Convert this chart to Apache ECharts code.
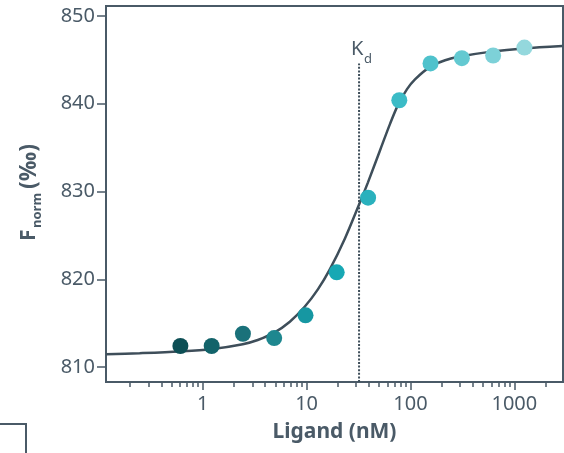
<!DOCTYPE html>
<html><head><meta charset="utf-8">
<script src="https://cdn.jsdelivr.net/npm/echarts@6/dist/echarts.min.js"></script>
<style>html,body{margin:0;padding:0;background:#fff}#c{width:564px;height:453px}</style>
</head><body><div id="c"></div>
<script>
// measured points (2-fold dilution series, nM) and Fnorm (‰)
const concentrations = [0.61, 1.22, 2.44, 4.88, 9.77, 19.5, 39.1, 78.1, 156, 312.5, 625, 1250];
const fnorm = [812.4, 812.4, 813.8, 813.3, 815.9, 820.8, 829.3, 840.4, 844.6, 845.2, 845.5, 846.4];
const pointColors = ['#0d4f55', '#12636a', '#1a717a', '#1e878f', '#1697a2', '#17a8b4', '#2ab1bd', '#3bbbc6', '#4fc2cc', '#63c9d1', '#7dd1d8', '#94d8dd'];
// fitted curve
const curveConc = [0.118, 0.247, 0.60, 1.19, 2.43, 3.39, 4.84, 6.9, 9.63, 12.85, 16.74, 23.4, 31.8, 39.0, 51.0, 63.6, 75.9, 92.7, 110.6, 154.5, 215.7, 300.8, 626, 1245, 2900];
const curveFnorm = [811.45, 811.58, 811.78, 812.03, 812.61, 813.09, 813.89, 815.17, 816.9, 818.85, 821.13, 824.66, 828.44, 831.05, 834.71, 837.71, 839.87, 841.67, 842.79, 844.21, 844.96, 845.38, 845.97, 846.31, 846.58];
// Kd marker
const kdValue = 32;
const kdLineFnorm = [808.3, 844.6];
// axes
const xRange = [0.1173, 2940];
const yRange = [808.3, 851.14];
const xMajorTicks = [1, 10, 100, 1000];
const xMinorTicks = [0.2,0.3,0.4,0.5,0.6,0.7,0.8,0.9, 2,3,4,5,6,7,8,9, 20,30,40,50,60,70,80,90, 200,300,400,500,600,700,800,900, 2000];
const yTicks = [810, 820, 830, 840, 850];

const INK = '#4a5a67';
const CURVE = '#3e4e5a';
const FONT = '"Noto Sans", sans-serif';

const chart = echarts.init(document.getElementById('c'), null, {renderer: 'canvas'});
const option = {
  animation: false,
  backgroundColor: '#fff',
  grid: {left: 106, right: 1, top: 6, bottom: 71, show: true, borderColor: INK, borderWidth: 2, backgroundColor: 'transparent'},
  xAxis: [
    {
      type: 'log', logBase: 10, min: xRange[0], max: xRange[1], position: 'bottom',
      axisLine: {lineStyle: {color: INK, width: 2}},
      axisTick: {customValues: xMajorTicks, length: 8, lineStyle: {color: INK, width: 1.5}},
      axisLabel: {customValues: xMajorTicks, formatter: v => String(Math.round(v)), fontSize: 20, color: INK, margin: 12, fontFamily: FONT},
      splitLine: {show: false}, minorTick: {show: false},
      name: 'Ligand (nM)', nameLocation: 'middle', nameGap: 40,
      nameTextStyle: {fontSize: 21, fontWeight: 'bold', color: INK, fontFamily: FONT}
    },
    {
      type: 'log', logBase: 10, min: xRange[0], max: xRange[1], position: 'bottom', gridIndex: 0,
      axisLine: {show: false},
      axisTick: {customValues: xMinorTicks, length: 5, lineStyle: {color: INK, width: 1.5}},
      axisLabel: {show: false}, splitLine: {show: false}
    }
  ],
  yAxis: {
    type: 'value', min: yRange[0], max: yRange[1],
    axisLine: {show: true, lineStyle: {color: INK, width: 2}},
    axisTick: {show: true, customValues: yTicks, length: 9, lineStyle: {color: INK, width: 1.5}},
    axisLabel: {customValues: yTicks, fontSize: 20, color: INK, margin: 11, fontFamily: FONT},
    splitLine: {show: false}
  },
  series: [
    {
      type: 'line', name: 'Kd', xAxisIndex: 0,
      data: kdLineFnorm.map(v => [kdValue, v]),
      showSymbol: false, silent: true, z: 1,
      lineStyle: {color: CURVE, width: 2, type: [2, 1.6]}
    },
    {
      type: 'line', name: 'fit', xAxisIndex: 0,
      data: curveConc.map((c, i) => [c, curveFnorm[i]]),
      smooth: 0.3, showSymbol: false, silent: true, z: 2,
      lineStyle: {color: CURVE, width: 2.5}
    },
    {
      type: 'scatter', name: 'data', xAxisIndex: 0, symbolSize: 16, z: 3,
      data: concentrations.map((c, i) => ({value: [c, fnorm[i]], itemStyle: {color: pointColors[i], opacity: 1}}))
    }
  ],
  graphic: [
    {type: 'text', x: 351, y: 49, style: {text: 'K', fill: INK, fontSize: 20, fontFamily: FONT, align: 'left', verticalAlign: 'middle', textAlign: 'left', textVerticalAlign: 'middle'}},
    {type: 'text', x: 364, y: 59, style: {text: 'd', fill: INK, fontSize: 13, fontFamily: FONT, align: 'left', verticalAlign: 'middle', textAlign: 'left', textVerticalAlign: 'middle'}},
    {type: 'group', x: 35, y: 241, rotation: Math.PI / 2, children: [
      {type: 'text', x: 0, y: -6, style: {text: 'F', fill: INK, fontSize: 21, fontWeight: 'bold', fontFamily: FONT, align: 'left', verticalAlign: 'middle', textAlign: 'left', textVerticalAlign: 'middle'}},
      {type: 'text', x: 13, y: 2, style: {text: 'norm', fill: INK, fontSize: 13, fontWeight: 'bold', fontFamily: FONT, align: 'left', verticalAlign: 'middle', textAlign: 'left', textVerticalAlign: 'middle'}},
      {type: 'text', x: 52, y: -6, style: {text: '(‰)', fill: INK, fontSize: 23, fontWeight: 'bold', fontFamily: FONT, align: 'left', verticalAlign: 'middle', textAlign: 'left', textVerticalAlign: 'middle'}}
    ]},
    {type: 'polyline', shape: {points: [[-2, 424], [26, 424], [26, 455]]}, style: {stroke: INK, lineWidth: 2, fill: null}}
  ]
};
chart.setOption(option);
</script>
</body></html>
